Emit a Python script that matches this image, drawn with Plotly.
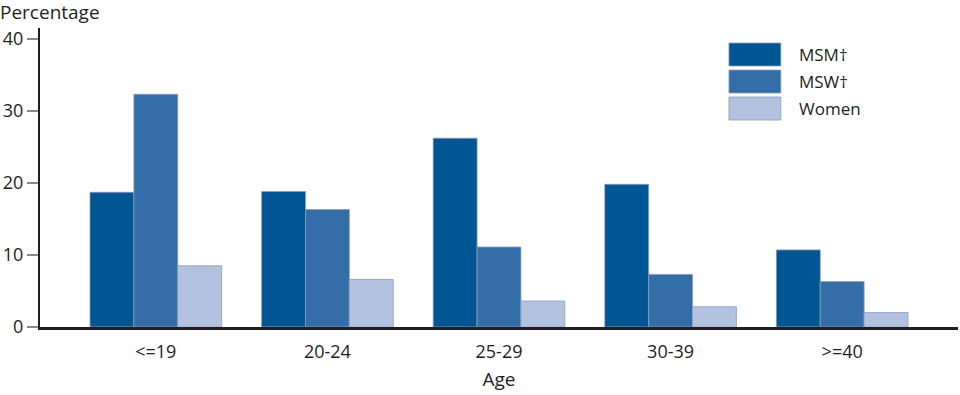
import plotly.graph_objects as go

ages = ["<=19", "20-24", "25-29", "30-39", ">=40"]
msm = [18.7, 18.8, 26.2, 19.8, 10.7]
msw = [32.3, 16.3, 11.1, 7.3, 6.3]
women = [8.5, 6.6, 3.6, 2.8, 2.0]
series_names = ["MSM†", "MSW†", "Women"]
colors = ["#005593", "#336ea8", "#b3c3df"]
y_ticks = [0, 10, 20, 30, 40]

FONT = "Open Sans, Liberation Sans, sans-serif"
TXT = "#231f20"

fig = go.Figure()
for name, vals, col in zip(series_names, [msm, msw, women], colors):
    fig.add_trace(go.Bar(
        x=ages, y=vals, name=name, marker_color=col,
        marker_line=dict(color="rgba(140,155,185,0.8)", width=1),
        showlegend=False,
    ))

# custom legend (large swatches), paper coordinates
PH = 299.0
for i, (name, col) in enumerate(zip(series_names, colors)):
    top_px = 43 + i * 27
    y1 = (327 - top_px) / PH
    y0 = (327 - top_px - 23) / PH
    fig.add_shape(type="rect", xref="paper", yref="paper",
                  x0=0.7505, x1=0.807, y0=y0, y1=y1,
                  fillcolor=col, line=dict(color="rgba(140,155,185,0.8)", width=1))
    fig.add_annotation(xref="paper", yref="paper", x=0.8246, y=(y0 + y1) / 2,
                       text=name, showarrow=False, xanchor="left", yanchor="middle",
                       font=dict(size=17, color=TXT, family=FONT))

fig.add_annotation(xref="paper", yref="paper", x=-0.0436, y=(327 - 12) / PH,
                   text="Percentage", showarrow=False, xanchor="left", yanchor="middle",
                   xshift=-2,
                   font=dict(size=19, color=TXT, family=FONT))

fig.update_layout(
    width=960, height=395,
    margin=dict(l=40, r=2, t=28, b=68),
    paper_bgcolor="white", plot_bgcolor="white",
    barmode="group", bargap=0.233, bargroupgap=0,
    font=dict(family=FONT, size=17, color=TXT),
    xaxis=dict(
        range=[-0.675, 4.675], showline=True, linecolor=TXT, linewidth=3,
        showgrid=False, ticks="", tickfont=dict(size=18), ticklabelstandoff=6,
        title=dict(text="Age", font=dict(size=19), standoff=12),
    ),
    yaxis=dict(
        range=[0, 41.5], tickvals=y_ticks, showline=True, linecolor=TXT,
        linewidth=2, showgrid=False, zeroline=False, ticks="outside",
        ticklen=11, tickcolor="#8a8a8a", tickwidth=2, tickfont=dict(size=18),
    ),
)

fig.write_html("out.html", config={"displayModeBar": False},
               post_script="document.body.style.margin='0';")
